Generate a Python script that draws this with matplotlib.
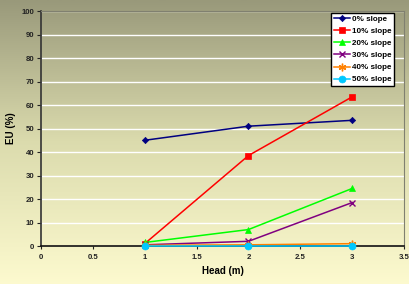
import numpy as np
import matplotlib
matplotlib.use("Agg")
import matplotlib.pyplot as plt
from matplotlib.colors import LinearSegmentedColormap

head = [1, 2, 3]
slope0 = [45, 51, 53.5]
slope10 = [1, 38.5, 63.5]
slope20 = [1.5, 7, 24.5]
slope30 = [0.5, 2, 18.5]
slope40 = [0.3, 0.5, 1]
slope50 = [0, 0, 0]
labels = ["0% slope", "10% slope", "20% slope", "30% slope", "40% slope", "50% slope"]
xticks = [0, 0.5, 1, 1.5, 2, 2.5, 3, 3.5]
yticks = list(range(0, 101, 10))

plt.rcParams['font.family'] = ['Liberation Sans', 'DejaVu Sans']

fig = plt.figure(figsize=(4.09, 2.84), dpi=100)

# background gradient across figure
bg = fig.add_axes([0, 0, 1, 1], zorder=-10)
cmap = LinearSegmentedColormap.from_list("bg", [(0, (0.99, 0.98, 0.81)), (0.5, (0.86, 0.86, 0.68)), (1, (0.60, 0.60, 0.48))])
grad = np.linspace(0, 1, 256).reshape(-1, 1)
bg.imshow(grad, aspect='auto', cmap=cmap, origin='lower', extent=[0, 1, 0, 1])
bg.axis('off')

ax = fig.add_axes([0.1002, 0.1338, 0.8878, 0.8272])
ax.patch.set_alpha(0)

series = [slope0, slope10, slope20, slope30, slope40, slope50]
colors = ["#000080", "#ff0000", "#00ff00", "#800080", "#ff8000", "#00c8ff"]
markers = ["D", "s", "^", "x", (6, 2, 0), "o"]
msizes = [3.2, 4.5, 4.5, 5, 5.5, 5]

for ys, c, m, ms, lab in zip(series, colors, markers, msizes, labels):
    ax.plot(head, ys, color=c, marker=m, markersize=ms, linewidth=1.1,
            markeredgewidth=1.0 if m in ("x",) or isinstance(m, tuple) else 0.5,
            label=lab, clip_on=False, zorder=3)

ax.set_xlim(0, 3.5)
ax.set_ylim(0, 100)
ax.set_xticks(xticks)
ax.set_xticklabels(["0", "0.5", "1", "1.5", "2", "2.5", "3", "3.5"])
ax.set_yticks(yticks)
ax.yaxis.grid(True, color='white', linewidth=1.0)
ax.set_axisbelow(True)
ax.tick_params(axis='both', labelsize=5.6, width=0.8, pad=2, colors='#222222')
ax.tick_params(axis='x', length=2.5, pad=3)
ax.tick_params(axis='y', length=3)
for lbl in ax.get_xticklabels() + ax.get_yticklabels():
    lbl.set_fontweight('bold')
ax.spines['left'].set_color('#333333')
ax.spines['bottom'].set_color('#111111')
ax.spines['left'].set_linewidth(1.2)
ax.spines['bottom'].set_linewidth(1.2)
ax.spines['top'].set_color('#808070')
ax.spines['right'].set_color('#808070')
ax.spines['top'].set_linewidth(0.8)
ax.spines['right'].set_linewidth(0.8)

ax.set_xlabel("Head (m)", fontsize=7, fontweight='bold', labelpad=4)
ax.set_ylabel("EU (%)", fontsize=7, fontweight='bold', labelpad=4)

leg = ax.legend(loc='upper right', bbox_to_anchor=(0.977, 1.0),
                prop={'weight': 'bold', 'size': 5.8}, frameon=True, fancybox=False,
                edgecolor='black', framealpha=1, facecolor='white',
                handlelength=2.0, labelspacing=0.56, borderpad=0.3, handletextpad=0.3,
                borderaxespad=0.2)
leg.get_frame().set_linewidth(1.0)

fig.savefig("out.png", dpi=100)
